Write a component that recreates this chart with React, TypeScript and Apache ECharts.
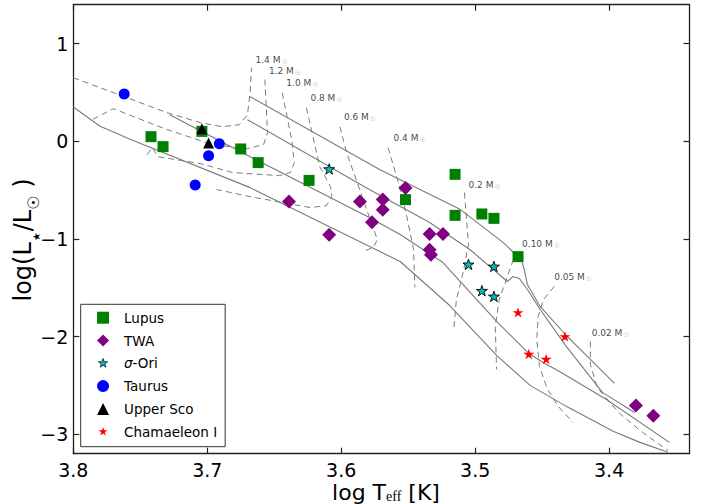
import React, { useEffect, useRef } from "react";
import * as echarts from "echarts";

// ---- observed data (log Teff, log L/Lsun) ----
const lupus = [[3.742,0.048],[3.733,-0.054],[3.704,0.102],[3.675,-0.078],[3.662,-0.218],[3.624,-0.400],[3.552,-0.597],[3.515,-0.338],[3.515,-0.758],[3.495,-0.744],[3.486,-0.789],[3.468,-1.181]];
const twa = [[3.639,-0.615],[3.609,-0.956],[3.586,-0.615],[3.569,-0.597],[3.569,-0.700],[3.577,-0.830],[3.552,-0.477],[3.534,-0.949],[3.524,-0.949],[3.534,-1.110],[3.533,-1.161],[3.380,-2.705],[3.367,-2.810]];
const sigmaOri = [[3.609,-0.283],[3.505,-1.260],[3.486,-1.281],[3.495,-1.530],[3.486,-1.588]];
const taurus = [[3.762,0.486],[3.709,-0.447],[3.699,-0.147],[3.691,-0.024]];
const upperSco = [[3.704,0.130],[3.699,-0.016]];
const chaI = [[3.468,-1.752],[3.433,-1.998],[3.460,-2.178],[3.447,-2.230]];

// ---- isochrones (solid) ----
const iso1 = [[3.668,0.458],[3.571,-0.290],[3.511,-0.699],[3.479,-1.037],[3.469,-1.170],[3.465,-1.231],[3.463,-1.334],[3.461,-1.467],[3.452,-1.682],[3.432,-1.989],[3.414,-2.234],[3.396,-2.480]];
const iso2 = [[3.670,0.222],[3.579,-0.494],[3.534,-0.832],[3.504,-1.108],[3.476,-1.436],[3.472,-1.385],[3.467,-1.405],[3.461,-1.518],[3.452,-1.712],[3.432,-2.101],[3.405,-2.572],[3.381,-2.777]];
const iso3 = [[3.728,0.273],[3.668,-0.157],[3.579,-0.781],[3.556,-0.955],[3.524,-1.242],[3.484,-1.845],[3.460,-2.173],[3.448,-2.275],[3.437,-2.357],[3.427,-2.439],[3.402,-2.644],[3.355,-3.084]];
const iso4 = [[3.800,0.352],[3.780,0.154],[3.758,0.025],[3.668,-0.474],[3.556,-1.231],[3.519,-1.682],[3.484,-2.193],[3.459,-2.500],[3.432,-2.715],[3.397,-2.971],[3.377,-3.084],[3.356,-3.186]];

// ---- mass tracks (dashed) ----
const track14 = [[3.800,0.652],[3.730,0.294],[3.705,0.191],[3.689,0.150],[3.676,0.171],[3.670,0.273],[3.668,0.498],[3.667,0.754]];
const track12 = [[3.657,0.632],[3.655,0.089],[3.658,-0.034],[3.670,-0.075],[3.696,-0.034],[3.732,0.130],[3.770,0.335],[3.786,0.222]];
const track10 = [[3.644,0.498],[3.637,0.017],[3.635,-0.218],[3.638,-0.320],[3.646,-0.351],[3.681,-0.320],[3.705,-0.228],[3.737,-0.157],[3.741,-0.064],[3.746,-0.157]];
const track08 = [[3.626,0.345],[3.616,-0.259],[3.608,-0.464],[3.607,-0.566],[3.611,-0.658],[3.623,-0.679],[3.668,-0.566],[3.693,-0.494]];
const track06 = [[3.601,0.150],[3.596,-0.116],[3.588,-0.423],[3.581,-0.699],[3.573,-1.006],[3.576,-1.088],[3.584,-1.129]];
const track04 = [[3.565,-0.064],[3.558,-0.392],[3.551,-0.771],[3.546,-1.108],[3.545,-1.497]];
const track02 = [[3.508,-0.525],[3.505,-1.057],[3.509,-1.344],[3.514,-1.620],[3.516,-1.927]];
const track010 = [[3.465,-1.149],[3.472,-1.231],[3.476,-1.385],[3.482,-1.620],[3.485,-1.897],[3.484,-2.337]];
const track005 = [[3.441,-1.487],[3.449,-1.620],[3.453,-1.794],[3.454,-2.030],[3.452,-2.306],[3.446,-2.541],[3.438,-2.715],[3.427,-2.879]];
const track002 = [[3.414,-2.050],[3.414,-2.286],[3.409,-2.521],[3.393,-2.777],[3.375,-2.982],[3.356,-3.166]];

const massLabels = ["1.4","1.2","1.0","0.8","0.6","0.4","0.2","0.10","0.05","0.02"];
const massLabelX = [3.664,3.654,3.641,3.623,3.598,3.561,3.505,3.465,3.441,3.413];
const massLabelY = [0.826,0.713,0.591,0.437,0.243,0.028,-0.453,-1.057,-1.395,-1.968];

const xTicks = [3.8,3.7,3.6,3.5,3.4];
const yTicks = [-3,-2,-1,0,1];

const FONT = "'DejaVu Sans', sans-serif";

function starPath(pad: number): string {
  const pts: string[] = [];
  for (let i = 0; i < 10; i++) {
    const a = -Math.PI / 2 + (i * Math.PI) / 5;
    const r = i % 2 === 0 ? 1 : 0.382;
    pts.push((r * Math.cos(a)).toFixed(4) + "," + (r * Math.sin(a)).toFixed(4));
  }
  const box = pad > 1 ? `M${-pad},${-pad}M${pad},${pad}` : "";
  return "path://" + box + "M" + pts.join("L") + "Z";
}

export default function App() {
  const ref = useRef<HTMLDivElement>(null);
  useEffect(() => {
    const chart = echarts.init(ref.current!, null, { renderer: "svg" });
    const STAR = starPath(0);
    const STAR_LEG = starPath(1.25);
    const axisColor = "#222";
    const isoStyle = { color: "#7a7a7a", width: 1.1, type: "solid" as const };
    const trackStyle = { color: "#7c7c7c", width: 1, type: [6, 4] as any };
    const lineSeries = (name: string, data: number[][], style: any) => ({
      name, type: "line", data, showSymbol: false, symbol: "none", silent: true,
      lineStyle: style, z: 1, clip: true, animation: false,
    });
    const sc = (name: string, data: number[][], symbol: string, size: number, color: string, border?: string) => ({
      name, type: "scatter", data, symbol, symbolSize: size, symbolKeepAspect: true,
      itemStyle: { color, borderColor: border || color, borderWidth: border ? 0.9 : 0, opacity: 1 },
      z: 5, animation: false,
    });
    const baseX = {
      type: "value", min: 3.34, max: 3.8, inverse: true,
      splitLine: { show: false },
      axisLine: { show: true, onZero: false, lineStyle: { color: axisColor, width: 1.3 } },
      axisTick: { show: true, inside: true, length: 6, customValues: xTicks, lineStyle: { color: axisColor, width: 1.2 } },
    };
    const baseY = {
      type: "value", min: -3.2, max: 1.4,
      splitLine: { show: false },
      axisLine: { show: true, onZero: false, lineStyle: { color: axisColor, width: 1.3 } },
      axisTick: { show: true, inside: true, length: 6, customValues: yTicks, lineStyle: { color: axisColor, width: 1.2 } },
    };
    chart.setOption({
      animation: false,
      backgroundColor: "#fff",
      grid: { left: 73.3, right: 15.5, top: 4.7, bottom: 50.3, containLabel: false },
      xAxis: [
        { ...baseX, position: "bottom",
          axisLabel: { show: true, customValues: xTicks, formatter: (v: number) => v.toFixed(1), fontSize: 19, lineHeight: 19, fontFamily: FONT, color: "#000", margin: 7 } },
        { ...baseX, position: "top", axisLabel: { show: false } },
      ],
      yAxis: [
        { ...baseY, position: "left",
          axisLabel: { show: true, customValues: yTicks, formatter: (v: number) => (v < 0 ? "\u2212" + Math.abs(v) : String(v)), fontSize: 19, fontFamily: FONT, color: "#000", margin: 5 } },
        { ...baseY, position: "right", axisLabel: { show: false } },
      ],
      legend: {
        data: [
          { name: "Lupus" }, { name: "TWA" },
          { name: "σ-Ori", icon: STAR_LEG, itemStyle: { color: "#00BFBF", borderColor: "#000", borderWidth: 0.7 } },
          { name: "Taurus" }, { name: "Upper Sco" },
          { name: "Chamaeleon I", icon: STAR_LEG, itemStyle: { color: "#ff0000", borderColor: "#ff0000", borderWidth: 0 } },
        ],
        orient: "vertical", left: 80.7, top: 304.3,
        padding: [5.4, 8, 7, 16], itemGap: 6.8, itemWidth: 12, itemHeight: 12,
        borderColor: "#333", borderWidth: 1, backgroundColor: "#fff",
        selectedMode: false,
        formatter: (n: string) => (n === "σ-Ori" ? "{i|σ}-Ori" : n),
        textStyle: { fontSize: 13.5, lineHeight: 16, fontFamily: FONT, color: "#000", padding: [0, 0, 0, 10],
          rich: { i: { fontStyle: "italic", fontSize: 13.5, fontFamily: FONT, color: "#000" } } },
      },
      series: [
        lineSeries("iso1", iso1, isoStyle),
        lineSeries("iso2", iso2, isoStyle),
        lineSeries("iso3", iso3, isoStyle),
        lineSeries("iso4", iso4, isoStyle),
        lineSeries("t14", track14, trackStyle),
        lineSeries("t12", track12, trackStyle),
        lineSeries("t10", track10, trackStyle),
        lineSeries("t08", track08, trackStyle),
        lineSeries("t06", track06, trackStyle),
        lineSeries("t04", track04, trackStyle),
        lineSeries("t02", track02, trackStyle),
        lineSeries("t010", track010, trackStyle),
        lineSeries("t005", track005, trackStyle),
        lineSeries("t002", track002, trackStyle),
        {
          name: "massLabels", type: "scatter", symbolSize: 0, silent: true, z: 4,
          data: massLabels.map((m, i) => ({ value: [massLabelX[i], massLabelY[i]], name: m })),
          label: {
            show: true, position: "right", distance: 0,
            formatter: (p: any) => `{m|${p.name} M}{s|☉}`,
            rich: {
              m: { fontSize: 9, fontFamily: FONT, color: "#111", lineHeight: 10, verticalAlign: "top" },
              s: { fontSize: 7, fontFamily: FONT, color: "#888", lineHeight: 7, verticalAlign: "bottom", padding: [0, 0, 0, 1] },
            },
          },
        },
        sc("Lupus", lupus, "rect", 11, "#008000"),
        sc("TWA", twa, "diamond", 14, "#800080"),
        sc("σ-Ori", sigmaOri, STAR, 11, "#00BFBF", "#000"),
        sc("Taurus", taurus, "circle", 11, "#0000ff"),
        sc("Upper Sco", upperSco, "triangle", 11, "#000000"),
        sc("Chamaeleon I", chaI, STAR, 11, "#ff0000"),
      ],
      graphic: [
        {
          type: "text", x: 386, y: 492, silent: true,
          style: {
            text: "{a|log T}{b|eff}{a| [K]}",
            align: "center", verticalAlign: "middle", textAlign: "center", textVerticalAlign: "middle",
            rich: {
              a: { fontSize: 22, fontFamily: FONT, fill: "#000", color: "#000", lineHeight: 22, verticalAlign: "top" },
              b: { fontSize: 14, fontFamily: "'Liberation Serif', serif", fill: "#000", color: "#000", lineHeight: 12, verticalAlign: "bottom" },
            },
          },
        },
        {
          type: "text", x: 26, y: 240, rotation: Math.PI / 2, silent: true,
          style: {
            text: "{a|log(L}{t|★}{a|/L}{s|☉}{a| )}",
            align: "center", verticalAlign: "middle", textAlign: "center", textVerticalAlign: "middle",
            rich: {
              a: { fontSize: 24, fontFamily: FONT, fill: "#000", color: "#000", lineHeight: 31, verticalAlign: "top" },
              t: { fontSize: 10, fontFamily: FONT, fill: "#000", color: "#000", lineHeight: 12, verticalAlign: "bottom", padding: [0, 1, 0, 1] },
              s: { fontSize: 16, fontFamily: FONT, fill: "#000", color: "#000", lineHeight: 16, verticalAlign: "bottom" },
            },
          },
        },
      ],
    });
    return () => chart.dispose();
  }, []);
  return <div ref={ref} style={{ position: "fixed", left: 0, top: 0, width: 705, height: 504 }} />;
}
